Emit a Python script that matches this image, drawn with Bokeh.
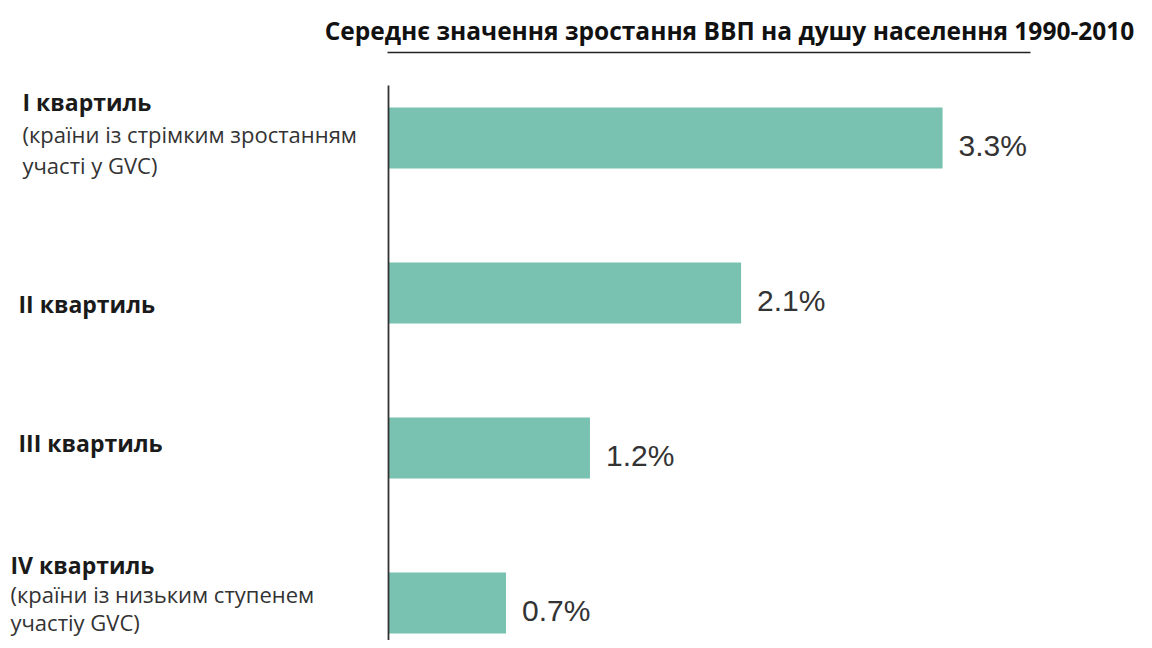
from bokeh.plotting import figure
from bokeh.models import Range1d, ColumnDataSource
from bokeh.core.properties import value
from bokeh.embed import file_html
from bokeh.resources import INLINE

title_text = "Середнє значення зростання ВВП на душу населення 1990-2010"
quartiles = ["I квартиль", "II квартиль", "III квартиль", "IV квартиль"]
subtitles = [["(країни із стрімким зростанням", "участі у GVC)"], [], [],
             ["(країни із низьким ступенем", "участіу GVC)"]]
growth = [3.3, 2.1, 1.2, 0.7]
value_labels = ["3.3%", "2.1%", "1.2%", "0.7%"]

W, H = 1144, 640
px_per_x = 167.9
px_per_y = 155.0
x0_px = 388.0      # frame px of x=0
y0_px = 137.5      # frame px of first bar centre


def dx(px):
    return (px - x0_px) / px_per_x


def dy(px):
    return (px - y0_px) / px_per_y


x_start, x_end = dx(0), dx(W)
y_top, y_bot = dy(0), dy(H)

p = figure(width=W, height=H, output_backend="svg", toolbar_location=None,
           x_range=Range1d(x_start, x_end), y_range=Range1d(y_bot, y_top),
           min_border=0, outline_line_color=None)
p.axis.visible = False
p.grid.visible = False
p.background_fill_color = "white"

idx = list(range(len(growth)))
src = ColumnDataSource(dict(y=idx, right=growth, lab=value_labels))
p.hbar(y="y", left=0, right="right", height=0.395, source=src,
       fill_color="#79c2b1", line_color=None)

# value labels
p.text(x="right", y="y", text="lab", source=src, x_offset=16, y_offset=7,
       text_font=value("Liberation Sans"), text_font_size="30px",
       text_color="#333333", text_baseline="middle", text_align="left")

# vertical axis line
p.segment(x0=0, y0=dy(85), x1=0, y1=y_bot + 0.1, line_color="#333333",
          line_width=1.8)

# title and rule
p.text(x=[dx(729)], y=[dy(30)], text=[title_text],
       text_font=value("Open Sans"), text_font_style="bold",
       text_font_size="24.5px", text_color="#111111",
       text_align="center", text_baseline="middle")
p.segment(x0=dx(387), y0=dy(52), x1=dx(1030), y1=dy(52),
          line_color="#222222", line_width=1.6)

# left category labels
q_offsets_x = [22, 18, 18, 10]
q_offsets_y = [-36, 11, -5, -38]
line_gap = [31, 0, 0, 28]
for i, q in enumerate(quartiles):
    p.text(x=[x_start], y=[i], text=[q], x_offset=q_offsets_x[i],
           y_offset=q_offsets_y[i], text_font=value("Open Sans"),
           text_font_style="bold", text_font_size="23px",
           text_color="#1a1a1a", text_baseline="middle", text_align="left")
    for j, s in enumerate(subtitles[i]):
        p.text(x=[x_start], y=[i], text=[s], x_offset=q_offsets_x[i],
               y_offset=q_offsets_y[i] + line_gap[i] * (j + 1) + 1,
               text_font=value("Open Sans"), text_font_size="22px",
               text_color="#333333", text_baseline="middle",
               text_align="left")

open("out.html", "w").write(file_html(p, INLINE))
